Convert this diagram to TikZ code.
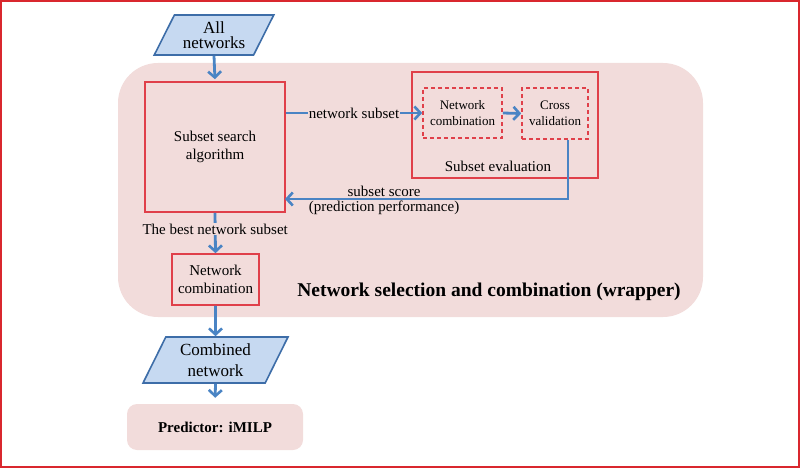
\documentclass[tikz,border=0pt]{standalone}
\usepackage{fontspec}
\setmainfont{Liberation Serif}
\usetikzlibrary{arrows.meta,shapes.geometric,calc}
\definecolor{frameRed}{HTML}{D9272E}
\definecolor{boxRed}{HTML}{E0404A}
\definecolor{lineBlue}{HTML}{4A84C4}
\definecolor{paraFill}{HTML}{C6D9F1}
\definecolor{paraLine}{HTML}{3D6DA8}
\definecolor{pinkBg}{HTML}{F2DCDB}
\tikzset{
  redbox/.style={draw=boxRed, line width=1.6pt, rectangle, inner sep=0pt, align=center},
  dashbox/.style={draw=boxRed, line width=1.6pt, dashed, dash pattern=on 4pt off 3pt, rectangle, inner sep=0pt, align=center, font=\fontsize{13}{15.7}\selectfont},
  para/.style={trapezium, trapezium stretches=true, draw=paraLine, fill=paraFill, line width=1.6pt, inner sep=0pt, align=center},
  arr/.style={draw=lineBlue, line width=2.8pt, -{Straight Barb[length=6pt,width=13pt,line width=2.6pt]}},
  txt/.style={font=\fontsize{15}{18}\selectfont, align=center},
}
\begin{document}
\begin{tikzpicture}[x=1pt,y=-1pt]
\useasboundingbox (0,0) rectangle (800,468);
\draw[frameRed, line width=2pt] (1,1) rectangle (799,467);
% wrapper background
\fill[pinkBg, rounded corners=40pt] (118,63) rectangle (703,317);
\node[font=\bfseries\fontsize{19.5}{22}\selectfont] (wraplbl) at (489,292) {Network selection and combination (wrapper)};
% nodes
\node[para, trapezium left angle=60, trapezium right angle=120, minimum width=120pt, minimum height=40pt, font=\fontsize{17}{15.5}\selectfont] (allnet) at (214,35) {All\\networks};
\node[redbox, minimum width=140pt, minimum height=130pt, txt] (search) at (215,147) {Subset search\\algorithm};
\node[redbox, minimum width=186pt, minimum height=106pt] (eval) at (505,125) {};
\node[txt, anchor=base] (evallbl) at (498,171) {Subset evaluation};
\node[dashbox, minimum width=79pt, minimum height=50pt] (nc1) at (462.5,113) {Network\\combination};
\node[dashbox, minimum width=66pt, minimum height=51pt] (cv) at (555,113.5) {Cross\\validation};
\node[redbox, minimum width=87pt, minimum height=51pt, txt] (nc2) at (215.5,279.5) {Network\\combination};
\node[para, trapezium left angle=63.4, trapezium right angle=116.6, minimum width=145pt, minimum height=46pt, font=\fontsize{17}{20.5}\selectfont] (comb) at (215.5,360) {Combined\\network};
\node[fill=pinkBg, rounded corners=10pt, minimum width=176pt, minimum height=46pt, font=\bfseries\fontsize{15}{18}\selectfont] (pred) at (215,427) {Predictor: iMILP};
% connectors
\draw[arr, shorten >=2pt] (allnet.south) -- (search.north);
\draw[arr] (nc1.west -| search.east) -- node[fill=pinkBg, txt, inner sep=1pt, pos=0.5] {network subset} (nc1.west);
\draw[arr] (nc1.east) -- (cv.west);
\coordinate (fbstart) at (568,140);
\coordinate (fbend) at (285,199);
\draw[arr] (fbstart) |- node[pos=0.825, above, txt, inner sep=1pt] {subset score} node[pos=0.825, below, txt, inner sep=1pt] {(prediction performance)} (fbend);
\draw[arr] (search.south) -- node[fill=pinkBg, txt, inner sep=1pt, pos=0.4] {The best network subset} (nc2.north);
\draw[arr] (nc2.south) -- (comb.north);
\draw[arr, shorten >=6pt] (comb.south) -- (pred.north);
\end{tikzpicture}
\end{document}
